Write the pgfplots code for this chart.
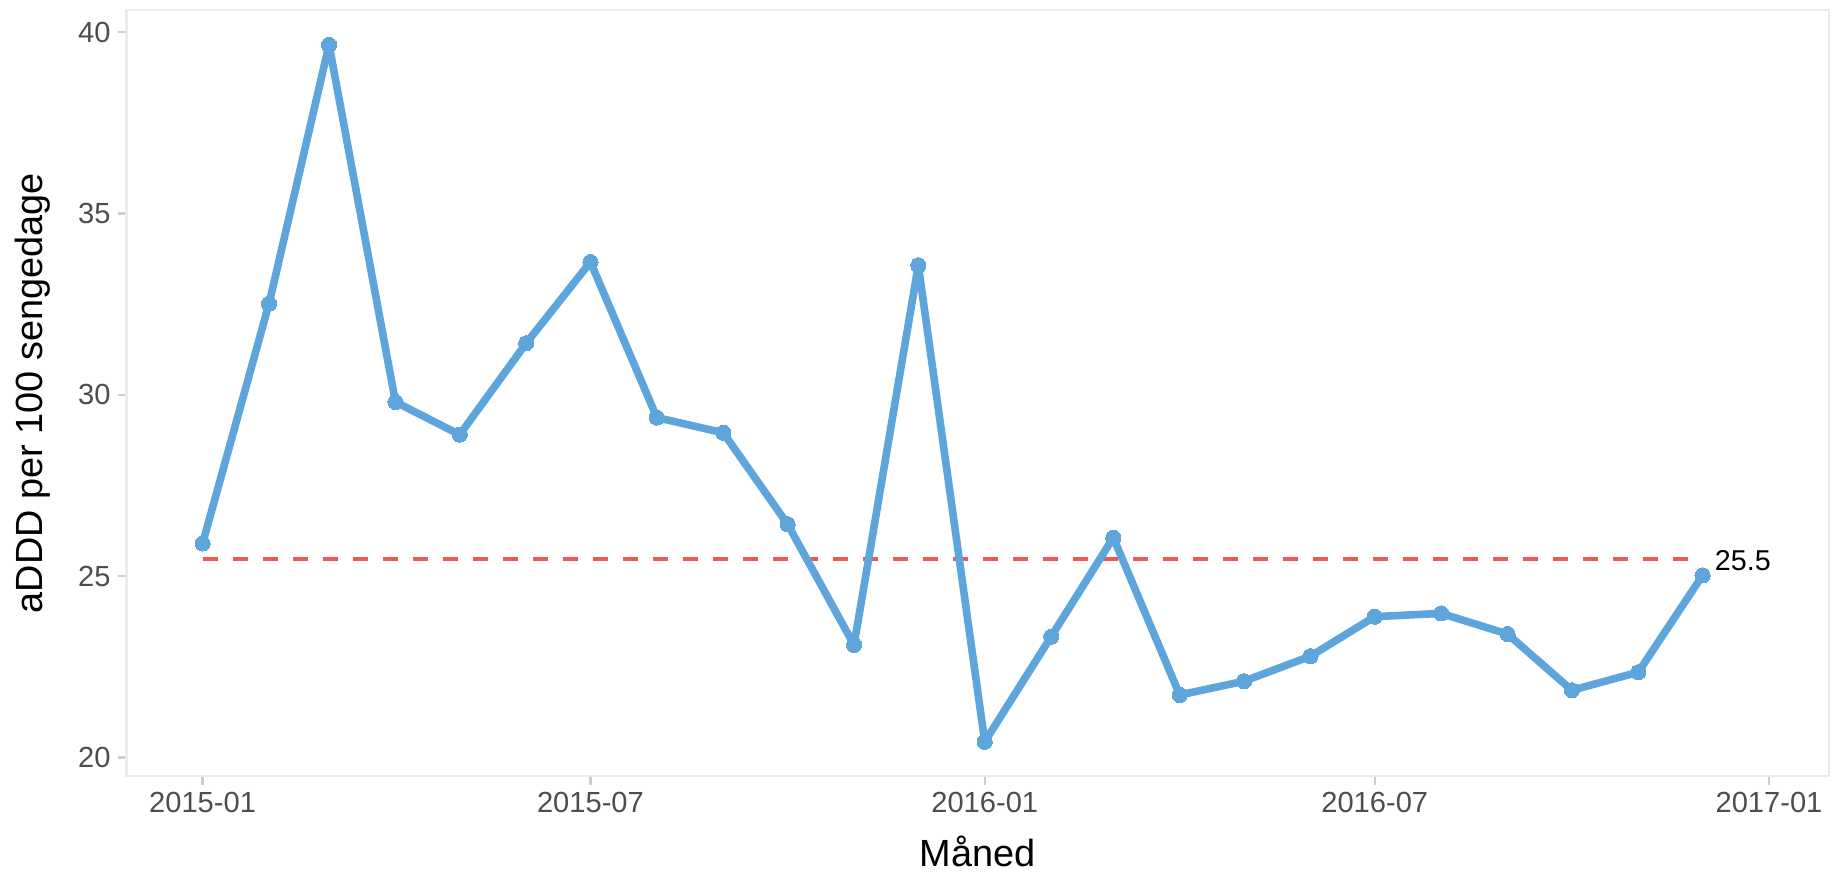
\documentclass[border=0pt]{standalone}
\usepackage{fontspec}
\setmainfont{Liberation Sans}
\usepackage{pgfplots}
\usepackage{pgfplotstable}
\pgfplotsset{compat=1.18}

\definecolor{lineblue}{HTML}{5DA5DA}
\definecolor{refred}{HTML}{F15854}
\definecolor{ticktext}{HTML}{4D4D4D}
\definecolor{panelborder}{HTML}{EBEBEB}
\definecolor{tickmark}{HTML}{CCCCCC}

% days since 2015-01-01, aDDD per 100 sengedage
\pgfplotstableread{
day value
0   25.90
31  32.51
59  39.65
90  29.80
120 28.90
151 31.42
181 33.66
212 29.37
243 28.95
273 26.43
304 23.10
334 33.57
365 20.43
396 23.33
425 26.06
456 21.72
486 22.10
517 22.79
547 23.88
578 23.97
609 23.40
639 21.85
670 22.35
700 25.02
}\monthly

\begin{document}
\begin{tikzpicture}
\begin{axis}[
    at={(0,0)}, anchor=south west,
    scale only axis,
    width=851bp, height=383bp,
    xmin=-35.5, xmax=759,
    ymin=19.48, ymax=40.61,
    xtick={0,181,365,547,731},
    xticklabels={2015-01,2015-07,2016-01,2016-07,2017-01},
    ytick={20,25,30,35,40},
    tick pos=left,
    tick align=outside,
    major tick length=4.5bp,
    tick style={tickmark, line width=1.2bp},
    axis line style={panelborder, line width=1.25bp},
    ticklabel style={font=\fontsize{14.6}{17}\selectfont, text=ticktext},
    /pgf/number format/assume math mode=true,
    xlabel={Måned},
    ylabel={aDDD per 100 sengedage},
    label style={font=\fontsize{19}{22}\selectfont},
    xlabel style={at={(rel axis cs:0.5,-0.0978)}, anchor=center},
    ylabel style={at={(rel axis cs:-0.0549,0.5)}, anchor=center},
    clip=false,
]
% reference level
\addplot[refred, line width=2bp, dash pattern=on 7.5bp off 7.5bp]
    coordinates {(0,25.46) (700,25.46)};
\node[anchor=west, font=\fontsize{14.4}{17}\selectfont, inner sep=0pt, xshift=6bp]
    at (axis cs:700,25.42) {25.5};

\addplot[lineblue, line width=3.8bp, line join=round,
    mark=*, mark size=3.8bp, mark options={fill=lineblue, draw=lineblue, line width=0pt}]
    table[x=day, y=value] {\monthly};
\end{axis}
\pgfresetboundingbox
\path (-63.25bp,-48bp) rectangle (854.5bp,388bp);
\end{tikzpicture}
\end{document}
